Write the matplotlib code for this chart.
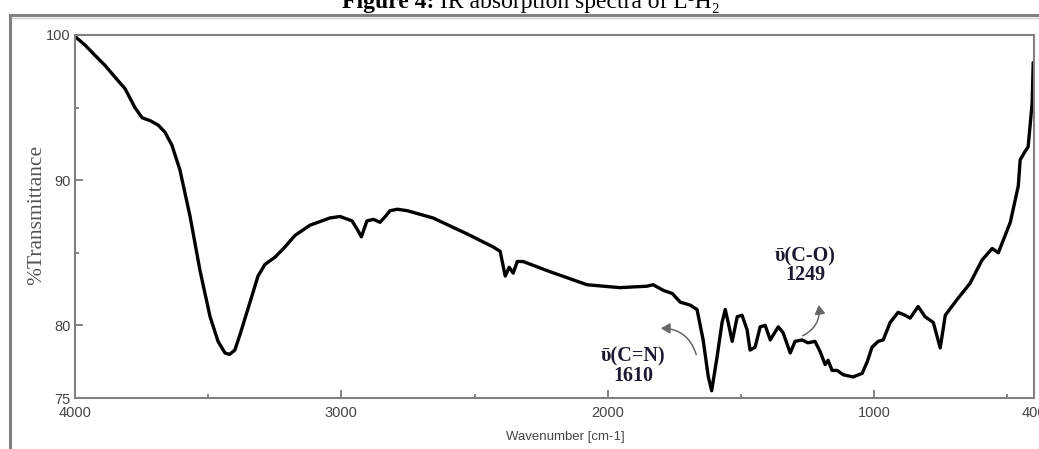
import matplotlib.pyplot as plt
from matplotlib.lines import Line2D
from matplotlib.patches import FancyArrowPatch

# IR spectrum of the ligand, read as (wavenumber, %T) pairs
wavenumber = [
    4000, 3962, 3925, 3887, 3850, 3812, 3775, 3748, 3718, 3688, 3662, 3636,
    3606, 3568, 3531, 3493, 3463, 3437, 3420, 3400, 3380, 3343, 3313, 3287,
    3249, 3212, 3174, 3118, 3043, 3005, 2960, 2940, 2925, 2904, 2880, 2855,
    2835, 2817, 2790, 2753, 2656, 2528, 2430, 2404, 2385, 2370, 2355, 2340,
    2318, 2217, 2078, 1954, 1852, 1830, 1790, 1758, 1728, 1691, 1665, 1642,
    1623, 1610, 1590, 1571, 1559, 1548, 1533, 1514, 1496, 1477, 1466, 1447,
    1428, 1409, 1390, 1360, 1342, 1315, 1297, 1270, 1249, 1222, 1203, 1184,
    1173, 1158, 1139, 1116, 1079, 1045, 1026, 1008, 985, 966, 940, 910, 884,
    865, 835, 809, 778, 752, 733, 688, 640, 595, 557, 534, 489, 459, 452,
    433, 422, 407, 403,
]
transmittance = [
    99.9, 99.3, 98.6, 97.9, 97.1, 96.3, 95.0, 94.3, 94.1, 93.8, 93.3, 92.4,
    90.7, 87.5, 83.8, 80.6, 78.9, 78.1, 78.0, 78.3, 79.4, 81.6, 83.4, 84.2,
    84.7, 85.4, 86.2, 86.9, 87.4, 87.5, 87.2, 86.6, 86.1, 87.2, 87.3, 87.1,
    87.5, 87.9, 88.0, 87.9, 87.4, 86.3, 85.4, 85.1, 83.4, 84.0, 83.6, 84.4,
    84.4, 83.7, 82.8, 82.6, 82.7, 82.8, 82.4, 82.2, 81.6, 81.4, 81.1, 79.0,
    76.5, 75.5, 77.8, 80.2, 81.1, 80.2, 78.9, 80.6, 80.7, 79.7, 78.3, 78.5,
    79.9, 80.0, 79.0, 79.9, 79.5, 78.1, 78.9, 79.0, 78.8, 78.9, 78.2, 77.3,
    77.6, 76.9, 76.9, 76.6, 76.45, 76.7, 77.5, 78.5, 78.9, 79.0, 80.2, 80.9,
    80.7, 80.5, 81.3, 80.6, 80.2, 78.45, 80.7, 81.8, 82.9, 84.5, 85.3, 85.0,
    87.1, 89.6, 91.4, 92.0, 92.3, 95.3, 98.1,
]

band_wavenumbers = [1610, 1249]
band_names = ["\u1fe1(C=N)", "\u1fe1(C-O)"]

x_ticks = [4000, 3000, 2000, 1000, 400]
x_minor = [3500, 2500, 1500, 500]
y_ticks = [75, 80, 90, 100]
y_minor = [85, 95]

W, H = 1039, 449
SERIF = ["Liberation Serif", "DejaVu Serif"]
SANS = ["Liberation Sans", "DejaVu Sans"]

fig = plt.figure(figsize=(W / 100, H / 100), dpi=100)
ax = fig.add_axes([75 / W, 1 - 398 / H, 959 / W, 363 / H])

ax.plot(wavenumber, transmittance, color="black", lw=2.4,
        solid_joinstyle="round", solid_capstyle="round")

ax.set_xlim(4000, 400)
ax.set_ylim(75, 100)
ax.set_xticks(x_ticks)
ax.set_xticks(x_minor, minor=True)
ax.set_yticks(y_ticks)
ax.set_yticks(y_minor, minor=True)
ax.tick_params(which="both", direction="in", color="#707070", width=1.2,
               labelsize=10.5, labelcolor="#444444")
ax.tick_params(axis="x", pad=6)
ax.tick_params(axis="y", pad=3)
ax.tick_params(which="major", length=6)
ax.tick_params(which="minor", length=3)
for lab in ax.get_xticklabels() + ax.get_yticklabels():
    lab.set_family(SANS)
for sp in ax.spines.values():
    sp.set_color("#808080")
    sp.set_linewidth(1.5)

# band labels with curved pointers
label_xy = [(1905, 77.2), (1259, 84.1)]
arrow_tail = [(1665, 77.8), (1278, 79.2)]
arrow_head = [(1811, 79.8), (1210, 81.6)]
for wn, name, xy, a, b in zip(band_wavenumbers, band_names, label_xy,
                              arrow_tail, arrow_head):
    ax.text(xy[0], xy[1], "{}\n{}".format(name, wn), ha="center",
            va="center", family=SERIF, weight="bold", fontsize=14.5,
            color="#1a1a30", linespacing=0.95)
    ax.add_patch(FancyArrowPatch(a, b, connectionstyle="arc3,rad=0.4",
                                 arrowstyle="-|>,head_length=0.6,head_width=0.35",
                                 mutation_scale=9, color="#666666", lw=1.1))

fig.text(37 / W, 1 - 215 / H, "%Transmittance", rotation=90, ha="center",
         va="center", family=SERIF, fontsize=15.5, color="#555555")
fig.text(565 / W, 1 - 437 / H, "Wavenumber [cm-1]", ha="center", va="center",
         family=SANS, fontsize=9.5, color="#444444")

# page frame around the figure
fig.add_artist(Line2D([10 / W, 10 / W], [0, 1 - 15 / H], color="#808080",
                      lw=2.2, transform=fig.transFigure))
fig.add_artist(Line2D([10 / W, 1], [1 - 15 / H, 1 - 15 / H], color="#808080",
                      lw=2.2, transform=fig.transFigure))
fig.add_artist(Line2D([12 / W, 1], [1 - 17.5 / H, 1 - 17.5 / H],
                      color="#d0d0d0", lw=1.0, transform=fig.transFigure))

# caption above the frame
base_y = 1 - 8 / H
t1 = fig.text(0, base_y, "Figure 4:", family=SERIF, weight="bold",
              fontsize=17, va="baseline", ha="left")
t2 = fig.text(0, base_y, " IR absorption spectra of L\u00b9H\u2082",
              family=SERIF, fontsize=17, va="baseline", ha="left")
fig.canvas.draw()
r = fig.canvas.get_renderer()
w1 = t1.get_window_extent(r).width
w2 = t2.get_window_extent(r).width
x0 = 531 - (w1 + w2) / 2
t1.set_x(x0 / W)
t2.set_x((x0 + w1) / W)

fig.savefig("out.png", dpi=100)
